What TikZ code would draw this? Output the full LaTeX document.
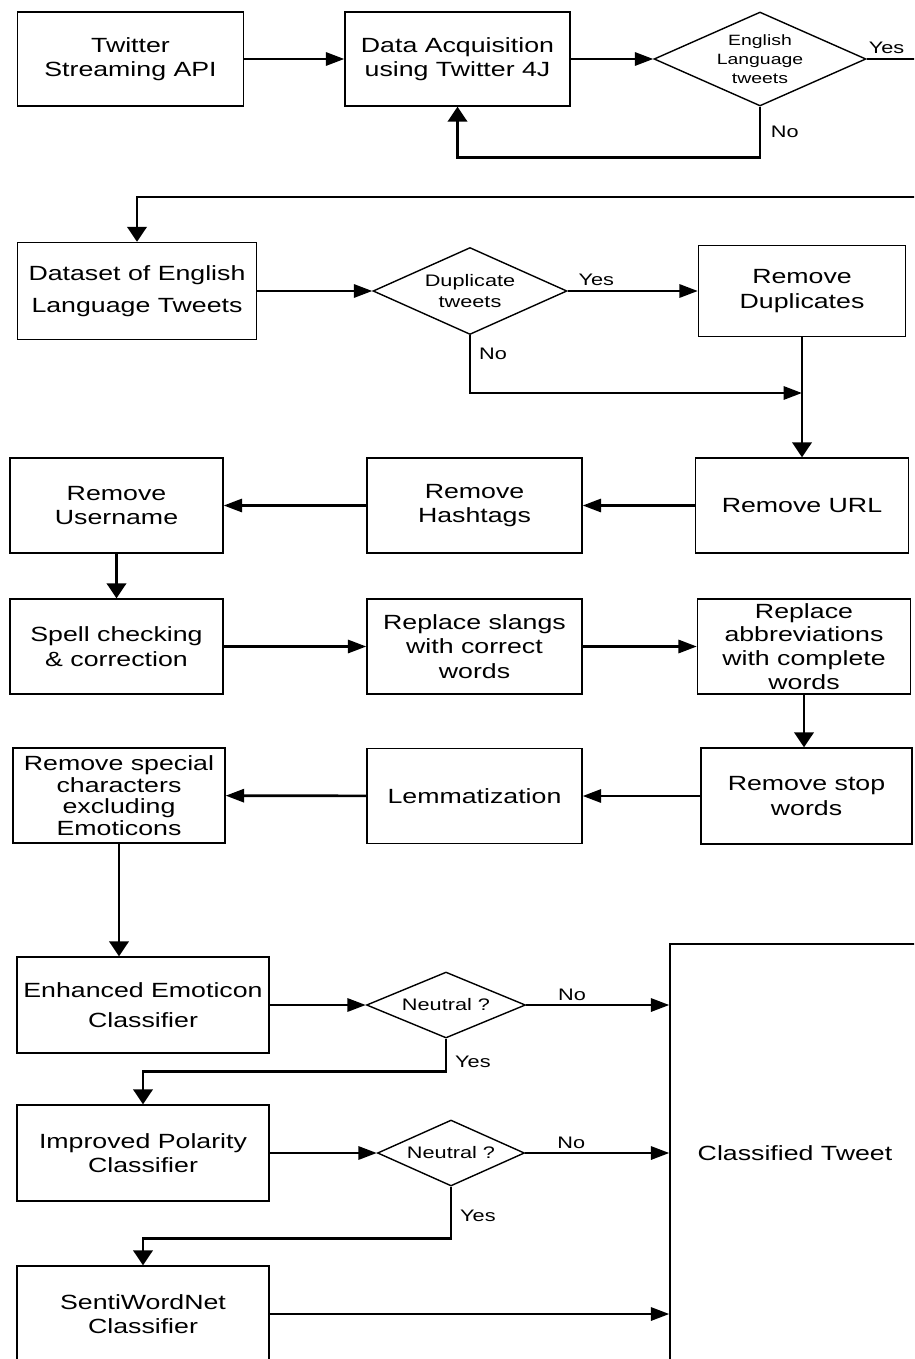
\documentclass[tikz,border=0pt]{standalone}
\usepackage{fontspec}
\setmainfont{Liberation Sans}[FakeStretch=1.3]
\usetikzlibrary{shapes.geometric,arrows.meta}

\tikzset{
  procbox/.style={draw, line width=0.8pt, align=center, inner sep=0pt,
    minimum width=4.26cm, minimum height=1.9cm,
    font=\fontsize{11.7}{13.9}\selectfont},
  decision/.style={draw, diamond, line width=0.8pt, inner sep=0pt},
  dectext/.style={align=center, inner sep=0pt, font=\fontsize{9.5}{11.8}\selectfont},
  arr/.style={line width=1.5pt, -{Triangle[length=10.5pt,width=7.5pt]}},
  darr/.style={line width=1.5pt, -{Triangle[length=8.5pt,width=11pt]}},
  lbl/.style={font=\fontsize{9.5}{11}\selectfont, inner sep=1.5pt},
}

\begin{document}
\begin{tikzpicture}[x=0.02cm, y=-0.02cm]
   \useasboundingbox (0,0) rectangle (914,1359);
   \clip (0,0) rectangle (914,1359);

   % acquisition
   \node[procbox, minimum width=4.52cm, minimum height=1.88cm] (api) at (130.5,59) {Twitter\\Streaming API};
   \node[procbox, minimum width=4.5cm, minimum height=1.88cm] (acq) at (457.5,59) {Data Acquisition\\using Twitter 4J};
   \node[decision, minimum width=4.24cm, minimum height=1.88cm] (eng) at (760,59) {};
   \node[dectext, font=\fontsize{8.5}{11}\selectfont] (engtxt) at (eng) {English\\Language\\tweets};
   \coordinate (rtop) at (925,59);
   \coordinate (rside) at (925,197);

   % duplicates
   \node[procbox, minimum width=4.78cm, minimum height=1.94cm] (data) at (137,291) {Dataset of English\\[4pt]Language Tweets};
   \node[decision, minimum width=3.88cm, minimum height=1.74cm] (dup) at (470,291) {};
   \node[dectext] (duptxt) at (dup) {Duplicate\\tweets};
   \node[procbox, minimum width=4.14cm, minimum height=1.82cm] (rdup) at (802,291) {Remove\\Duplicates};
   \coordinate (merge) at (802,393);

   % cleaning
   \node[procbox] (url) at (802,505.5) {Remove URL};
   \node[procbox, minimum width=4.3cm] (hash) at (474.5,505.5) {Remove\\Hashtags};
   \node[procbox] (user) at (116.5,505.5) {Remove\\Username};
   \node[procbox] (spell) at (116.5,646.5) {Spell checking\\\& correction};
   \node[procbox, minimum width=4.3cm] (slang) at (474.5,646.5) {Replace slangs\\with correct\\words};
   \node[procbox, font=\fontsize{11.7}{13.6}\selectfont] (abbr) at (804,646.5) {Replace\\abbreviations\\with complete\\words};
   \node[procbox, minimum width=4.22cm, minimum height=1.92cm] (stop) at (806.5,796) {Remove stop\\words};
   \node[procbox, minimum width=4.3cm] (lem) at (474.5,796) {Lemmatization};
   \node[procbox, minimum width=4.24cm, font=\fontsize{11.7}{12.3}\selectfont] (spec) at (119,795.5) {Remove special\\characters\\excluding\\Emoticons};

   % classifiers
   \node[procbox, minimum width=5.04cm, minimum height=1.92cm] (enh) at (143,1005) {Enhanced Emoticon\\[3pt]Classifier};
   \node[decision, minimum width=3.18cm, minimum height=1.32cm] (neu1) at (446,1005) {};
   \node[dectext] (neu1txt) at (neu1) {Neutral ?};
   \node[procbox, minimum width=5.04cm, minimum height=1.92cm] (imp) at (143,1153) {Improved Polarity\\Classifier};
   \node[decision, minimum width=2.94cm, minimum height=1.32cm] (neu2) at (451,1153) {};
   \node[dectext] (neu2txt) at (neu2) {Neutral ?};
   \node[procbox, minimum width=5.04cm, minimum height=1.92cm] (senti) at (143,1314) {SentiWordNet\\Classifier};
   \node[procbox, minimum width=5cm, minimum height=8.36cm] (cls) at (795,1153) {Classified Tweet};

   % links
   \draw[arr] (api) -- (acq);
   \draw[arr] (acq) -- (eng);
   \draw[darr] (eng.south) -- node[lbl, right=4pt] {No} ++(0,51) -| (acq.south);
   \draw[darr] (eng.east) -- node[lbl, above=1pt, pos=0.34] {Yes} (rtop) -- (rside) -| (data.north);

   \draw[arr] (data) -- (dup);
   \draw[arr] (dup) -- node[lbl, above=1pt, pos=0.22] {Yes} (rdup);
   \draw[arr] (dup.south) |- node[lbl, right=3pt, pos=0.16] {No} (merge);
   \draw[darr] (rdup) -- (url);

   \draw[arr] (url) -- (hash);
   \draw[arr] (hash) -- (user);
   \draw[darr] (user) -- (spell);
   \draw[arr] (spell) -- (slang);
   \draw[arr] (slang) -- (abbr);
   \draw[darr] (abbr.south) -- (abbr.south |- stop.north);
   \draw[arr] (stop) -- (lem);
   \draw[arr] (lem) -- (spec);
   \draw[darr] (spec.south) -- (spec.south |- enh.north);

   \draw[arr] (enh) -- (neu1);
   \draw[arr] (neu1) -- node[lbl, above, pos=0.32] {No} (neu1.east -| cls.west);
   \draw[darr] (neu1.south) -- node[lbl, right=3pt, pos=0.7] {Yes} ++(0,33) -| (imp.north);
   \draw[arr] (imp) -- (neu2);
   \draw[arr] (neu2) -- node[lbl, above, pos=0.32] {No} (neu2.east -| cls.west);
   \draw[darr] (neu2.south) -- node[lbl, right=3pt, pos=0.56] {Yes} ++(0,52) -| (senti.north);
   \draw[arr] (senti.east) -- (senti.east -| cls.west);
\end{tikzpicture}
\end{document}
